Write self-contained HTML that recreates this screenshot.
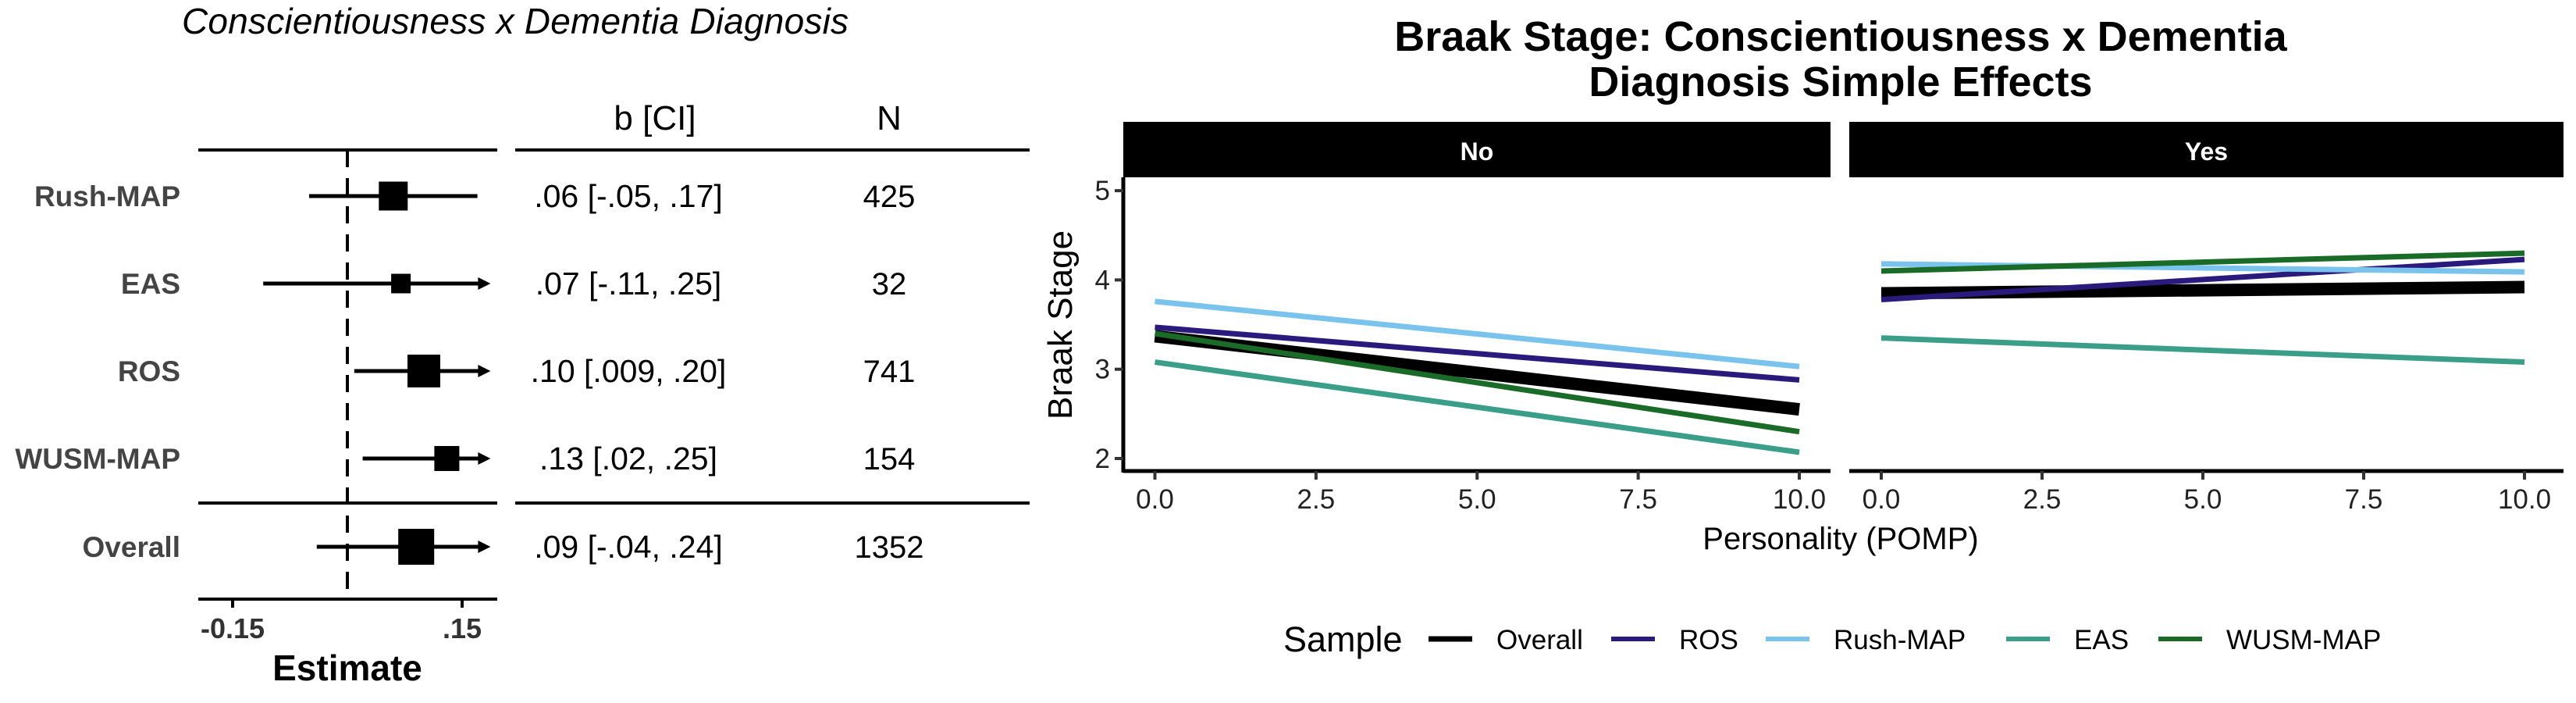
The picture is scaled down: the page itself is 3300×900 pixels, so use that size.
<!DOCTYPE html>
<html><head><meta charset="utf-8"><style>
html,body{margin:0;padding:0;background:#fff}
svg{display:block;font-family:"Liberation Sans",Arial,sans-serif}
</style></head><body>
<svg id="fig" xmlns="http://www.w3.org/2000/svg" width="3300" height="900" viewBox="0 0 3300 900">
<g id="forest">
<text x="660" y="43" font-size="46" font-style="italic" text-anchor="middle" textLength="854">Conscientiousness x Dementia Diagnosis</text>
<text x="839" y="166" font-size="44" text-anchor="middle">b [CI]</text>
<text x="1139" y="166" font-size="44" text-anchor="middle">N</text>
<line x1="254" y1="192" x2="637" y2="192" stroke="#000" stroke-width="4"/>
<line x1="660" y1="192" x2="1319" y2="192" stroke="#000" stroke-width="4"/>
<line x1="254" y1="644" x2="637" y2="644" stroke="#000" stroke-width="4"/>
<line x1="660" y1="644" x2="1319" y2="644" stroke="#000" stroke-width="4"/>
<line x1="254" y1="767" x2="637" y2="767" stroke="#000" stroke-width="4"/>
<text x="445" y="871" font-size="46" font-weight="bold" text-anchor="middle">Estimate</text>
</g>
<g id="lines">
<text x="2358" y="65" font-size="54" font-weight="bold" text-anchor="middle">Braak Stage: Conscientiousness x Dementia</text>
<text x="2358" y="123" font-size="54" font-weight="bold" text-anchor="middle">Diagnosis Simple Effects</text>
<text x="2358" y="703" font-size="40" text-anchor="middle">Personality (POMP)</text>
<text transform="translate(1373,416) rotate(-90)" font-size="44" text-anchor="middle">Braak Stage</text>
</g>
</svg>
<script>
const forestLabels = ["Rush-MAP","EAS","ROS","WUSM-MAP","Overall"];
const forestEst = [0.06,0.07,0.10,0.13,0.09];
const forestLo = [-0.05,-0.11,0.009,0.02,-0.04];
const forestHi = [0.17,0.25,0.20,0.25,0.24];
const forestCI = [".06 [-.05, .17]",".07 [-.11, .25]",".10 [.009, .20]",".13 [.02, .25]",".09 [-.04, .24]"];
const forestN = [425,32,741,154,1352];
const forestTicks = [-0.15,0.15];
const forestTickLabels = ["-0.15",".15"];

const panels = ["No","Yes"];
const seriesNames = ["Overall","ROS","Rush-MAP","EAS","WUSM-MAP"];
const xEnds = [0,10];
const overallNo = [3.37,2.55], overallYes = [3.85,3.92];
const rosNo = [3.47,2.88], rosYes = [3.78,4.23];
const rushNo = [3.76,3.03], rushYes = [4.18,4.09];
const easNo = [3.08,2.07], easYes = [3.35,3.08];
const wusmNo = [3.40,2.30], wusmYes = [4.10,4.30];
const yTicks = [2,3,4,5];
const xTicks = [0,2.5,5,7.5,10];
const xTickLabels = ["0.0","2.5","5.0","7.5","10.0"];

const NS="http://www.w3.org/2000/svg";
function mk(tag,attrs,parent,txt){const e=document.createElementNS(NS,tag);for(const k in attrs)e.setAttribute(k,attrs[k]);if(txt!==undefined)e.textContent=txt;parent.appendChild(e);return e;}

// forest
const F=document.getElementById('forest');
const fx=v=>445+980*v;
const rowY=[251,363,475,587,700];
const boxSz=[37,25,42,32,46];
const fMax=0.179;
const dash=mk('line',{x1:fx(0),y1:192,x2:fx(0),y2:767,stroke:'#000','stroke-width':4,'stroke-dasharray':'22,14'},F);


forestLabels.forEach((lab,i)=>{
  const y=rowY[i];
  const t=mk('text',{x:231,y:y+13,'font-size':37,'font-weight':'bold',fill:'#444','text-anchor':'end'},F,lab);
  
  
  const hi=Math.min(forestHi[i],fMax);
  const ln=mk('line',{x1:fx(forestLo[i]),y1:y,x2:fx(hi),y2:y,stroke:'#000','stroke-width':5},F);
  
  
  if(forestHi[i]>fMax){
    const a=mk('polygon',{points:`${fx(fMax)+8},${y} ${fx(fMax)-8},${y-8} ${fx(fMax)-8},${y+8}`,fill:'#000'},F);
    
    
  }
  const s=boxSz[i];
  const b=mk('rect',{x:fx(forestEst[i])-s/2,y:y-s/2,width:s,height:s,fill:'#000'},F);
  
  
  const c=mk('text',{x:805,y:y+14,'font-size':41,'text-anchor':'middle'},F,forestCI[i]);
  
  
  const n=mk('text',{x:1139,y:y+14,'font-size':40,'text-anchor':'middle'},F,String(forestN[i]));
  
  
});
forestTicks.forEach((v,i)=>{
  const tk=mk('line',{x1:fx(v),y1:767,x2:fx(v),y2:778,stroke:'#000','stroke-width':4},F);
  
  
  const tl=mk('text',{x:fx(v),y:817,'font-size':36,'font-weight':'bold',fill:'#333','text-anchor':'middle'},F,forestTickLabels[i]);
  
  
});

// line chart
const L=document.getElementById('lines');
const yS=v=>587-(v-2)*114.3;
const pX0=[1479.5,2410], pX1=[2305,3234];
const stripX=[[1439,2345],[2369,3284]];
const colors={"Overall":"#000","ROS":"#2a1a7c","Rush-MAP":"#79c3ec","EAS":"#3a9e88","WUSM-MAP":"#1b6b28"};
const widths={"Overall":16,"ROS":7,"Rush-MAP":7,"EAS":7,"WUSM-MAP":7};
const dataNo=[overallNo,rosNo,rushNo,easNo,wusmNo];
const dataYes=[overallYes,rosYes,rushYes,easYes,wusmYes];
panels.forEach((p,pi)=>{
  const [sx0,sx1]=stripX[pi];
  const st=mk('rect',{x:sx0,y:156,width:sx1-sx0,height:71,fill:'#000'},L);
  
  
  const stt=mk('text',{x:(sx0+sx1)/2,y:205,'font-size':32,'font-weight':'bold',fill:'#fff','text-anchor':'middle'},L,p);
  
  
  const ax=mk('line',{x1:sx0,y1:603,x2:sx1,y2:603,stroke:'#000','stroke-width':5},L);
  
  
  const xs=v=>pX0[pi]+(pX1[pi]-pX0[pi])*(v-xEnds[0])/(xEnds[1]-xEnds[0]);
  xTicks.forEach((v,i)=>{
    const tk=mk('line',{x1:xs(v),y1:603,x2:xs(v),y2:614,stroke:'#333','stroke-width':4},L);
    
    
    const tl=mk('text',{x:xs(v),y:651,'font-size':35,fill:'#222','text-anchor':'middle'},L,xTickLabels[i]);
    
    
  });
  const data=pi===0?dataNo:dataYes;
  seriesNames.forEach((s,si)=>{
    const d=data[si];
    const ln=mk('line',{x1:xs(xEnds[0]),y1:yS(d[0]),x2:xs(xEnds[1]),y2:yS(d[1]),stroke:colors[s],'stroke-width':widths[s]},L);
    
    
  });
});
const yax=mk('line',{x1:1439,y1:227,x2:1439,y2:605,stroke:'#000','stroke-width':5},L);


yTicks.forEach(v=>{
  const tk=mk('line',{x1:1428,y1:yS(v),x2:1439,y2:yS(v),stroke:'#333','stroke-width':4},L);
  
  
  const tl=mk('text',{x:1422,y:yS(v)+12,'font-size':35,fill:'#222','text-anchor':'end'},L,String(v));
  
  
});
// legend
const lg=mk('text',{x:1644,y:834,'font-size':45},L,'Sample');


const keyX=[1830,2064,2262,2570,2765];
seriesNames.forEach((s,i)=>{
  const k=mk('line',{x1:keyX[i],y1:818,x2:keyX[i]+56,y2:818,stroke:colors[s],'stroke-width':s==='Overall'?7:6},L);
  
  
  const t=mk('text',{x:keyX[i]+87,y:831,'font-size':35},L,s);
  
  
});
</script>
</body></html>
